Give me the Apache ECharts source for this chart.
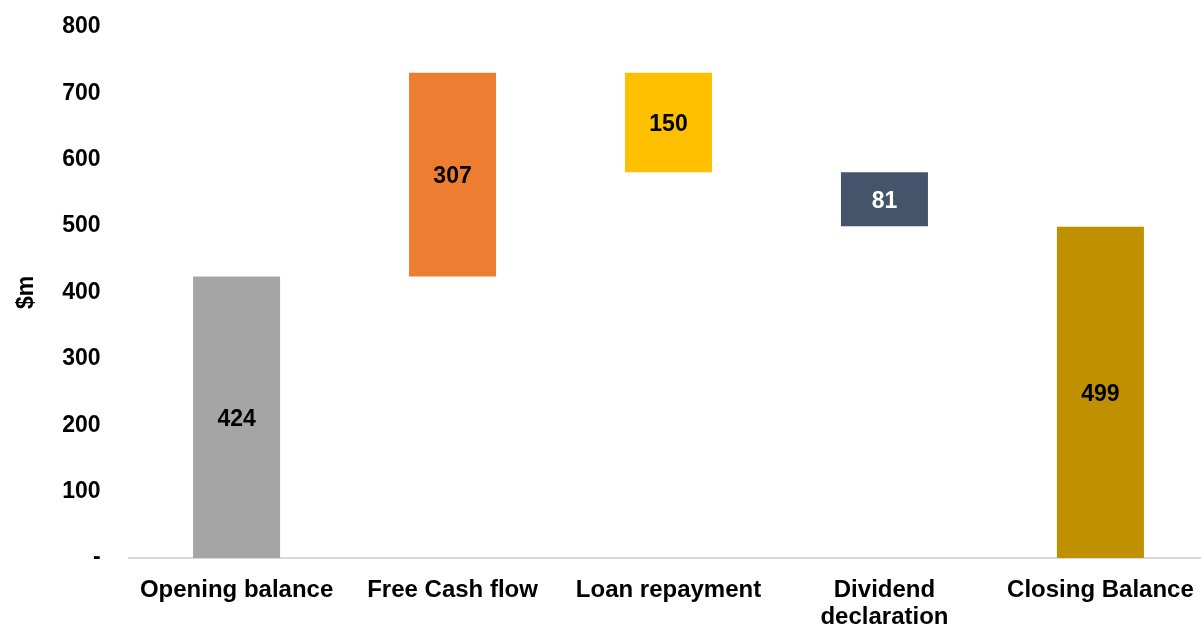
<!DOCTYPE html>
<html>
<head>
<meta charset="utf-8">
<script src="https://cdn.jsdelivr.net/npm/echarts@6/dist/echarts.min.js"></script>
<style>
html,body{margin:0;padding:0;background:#fff;}
#chart{width:1201px;height:625px;}
</style>
</head>
<body>
<div id="chart"></div>
<script>
const categories = ['Opening balance', 'Free Cash flow', 'Loan repayment', 'Dividend\ndeclaration', 'Closing Balance'];
const changes = [424, 307, -150, -81, 499];
const isTotal = [true, false, false, false, true];
const barColors = ['#A5A5A5', '#ED7D31', '#FFC000', '#44546A', '#BF9000'];
const labelColors = ['#000000', '#000000', '#000000', '#FFFFFF', '#000000'];
const yTicks = { min: 0, max: 800, interval: 100 };

// build base/visible arrays for waterfall stacking
const baseData = [];
const barData = [];
let running = 0;
changes.forEach((v, i) => {
  if (isTotal[i]) {
    baseData.push(0);
    barData.push(v);
    running = v;
  } else if (v >= 0) {
    baseData.push(running);
    barData.push(v);
    running += v;
  } else {
    running += v;
    baseData.push(running);
    barData.push(-v);
  }
});

const chart = echarts.init(document.getElementById('chart'), null, { renderer: 'canvas' });
const font = 'Liberation Sans, Arial, sans-serif';
chart.setOption({
  animation: false,
  grid: { left: 128.6, right: -7.4, top: 27, bottom: 67, containLabel: false, outerBoundsMode: 'none' },
  xAxis: {
    type: 'category',
    data: categories,
    axisLine: { show: true, lineStyle: { color: '#D9D9D9', width: 2 } },
    axisTick: { show: false },
    axisLabel: {
      interval: 0, margin: 19, color: '#000', fontFamily: font, fontWeight: 'bold',
      fontSize: 24, lineHeight: 27
    }
  },
  yAxis: {
    type: 'value',
    min: yTicks.min, max: yTicks.max, interval: yTicks.interval,
    name: '$m',
    nameLocation: 'middle',
    nameGap: 90,
    nameRotate: 90,
    nameTextStyle: { color: '#000', fontFamily: font, fontWeight: 'bold', fontSize: 23 },
    axisLine: { show: false },
    axisTick: { show: false },
    splitLine: { show: false },
    axisLabel: {
      margin: 28, color: '#000', fontFamily: font, fontWeight: 'bold', fontSize: 23,
      formatter: v => v === 0 ? '-' : String(v)
    }
  },
  series: [
    {
      type: 'bar', stack: 'w', data: baseData, barWidth: 87,
      itemStyle: { color: 'transparent' }, silent: true
    },
    {
      type: 'bar', stack: 'w', barWidth: 87,
      data: barData.map((v, i) => ({
        value: v,
        itemStyle: { color: barColors[i] },
        label: { color: labelColors[i] }
      })),
      label: {
        show: true, position: 'inside', fontFamily: font, fontWeight: 'bold', fontSize: 23,
        offset: [0, 2],
        formatter: p => String(Math.abs(changes[p.dataIndex]))
      }
    }
  ]
});
</script>
</body>
</html>
